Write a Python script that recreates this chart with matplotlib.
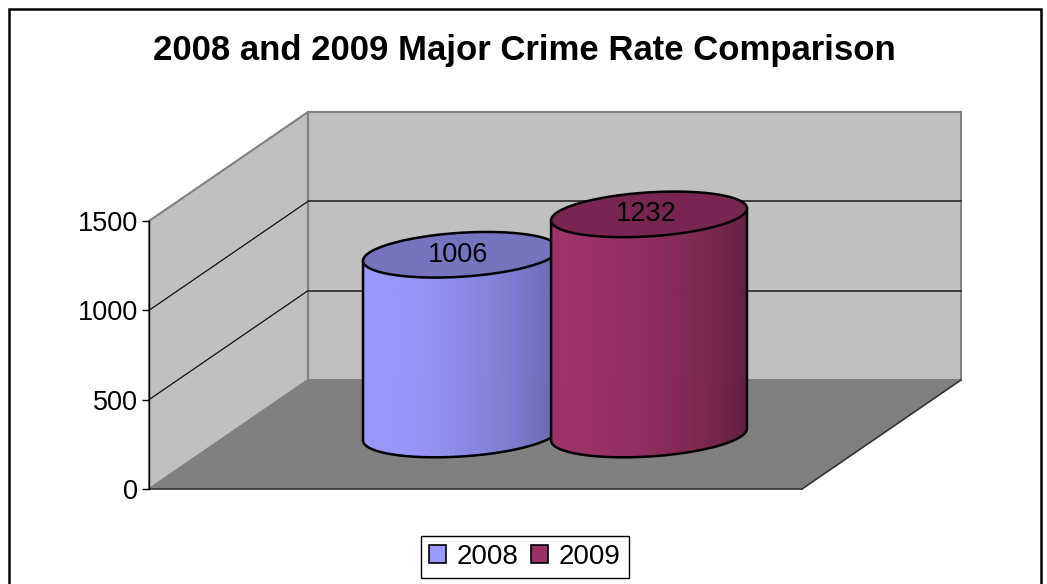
import numpy as np
import matplotlib
matplotlib.use("Agg")
import matplotlib.pyplot as plt
from matplotlib.patches import Polygon, Patch, Rectangle

plt.rcParams["font.family"] = ["Liberation Sans", "DejaVu Sans"]

# data
title = "2008 and 2009 Major Crime Rate Comparison"
series = ["2008", "2009"]
values = [1006, 1232]
y_ticks = [0, 500, 1000, 1500]
y_max = 1500

# styles
light = [(155, 155, 255), (158, 52, 106)]
dark = [(92, 92, 158), (88, 27, 58)]
tops = ["#7474BF", "#782651"]
legend_colors = ["#9999FF", "#993366"]

W, H = 1047, 584
fig = plt.figure(figsize=(W / 100, H / 100), dpi=100)

# front plane of the plot box (pixels from top-left)
x0_px, x1_px, ybot_px, ytop_px = 149, 802, 489, 221
ax = fig.add_axes([x0_px / W, (H - ybot_px) / H, (x1_px - x0_px) / W, (ybot_px - ytop_px) / H])
ax.set_xlim(0, 1)
ax.set_ylim(0, y_max)
ax.patch.set_visible(False)

px_per_unit = (ybot_px - ytop_px) / y_max
DX = 159 / (x1_px - x0_px)      # depth offset in x units
DY = 109 / px_per_unit          # depth offset in value units


def proj(x, v, d):
    return (x + d * DX, v + d * DY)


def poly(pts, **kw):
    p = Polygon(pts, closed=True, clip_on=False, **kw)
    ax.add_patch(p)
    return p


# walls and floor
poly([proj(0, 0, 1), proj(1, 0, 1), proj(1, y_max, 1), proj(0, y_max, 1)],
     facecolor="#C0C0C0", edgecolor="#808080", lw=1.5, zorder=1)
poly([proj(0, 0, 0), proj(0, 0, 1), proj(0, y_max, 1), proj(0, y_max, 0)],
     facecolor="#C0C0C0", edgecolor="#808080", lw=1.5, zorder=1)
poly([proj(0, 0, 0), proj(1, 0, 0), proj(1, 0, 1), proj(0, 0, 1)],
     facecolor="#808080", edgecolor="none", zorder=2)
for a, b in [((0, 0, 0), (1, 0, 0)), ((1, 0, 0), (1, 0, 1))]:
    pa, pb = proj(*a), proj(*b)
    ax.plot([pa[0], pb[0]], [pa[1], pb[1]], color="#333333", lw=1.2, clip_on=False, zorder=2)

for v in y_ticks[1:-1]:
    pa, pb, pc = proj(0, v, 0), proj(0, v, 1), proj(1, v, 1)
    ax.plot([pa[0], pb[0]], [pa[1], pb[1]], color="#111111", lw=0.9, clip_on=False, zorder=2)
    ax.plot([pb[0], pc[0]], [pb[1], pc[1]], color="#333333", lw=1.3, clip_on=False, zorder=2)

# cylinders
bar_w = 0.30
offsets = [-0.144, 0.144]
R = bar_w / 2
B = 22 / px_per_unit     # vertical semi-axis of the ellipse
T = 6 / px_per_unit      # tilt of the ellipse
depth = 0.5


def ring(cx, v, t):
    x, y = proj(cx + R * np.cos(t), v, depth)
    return x, y + B * np.sin(t) + T * np.cos(t)


for i, (name, val) in enumerate(zip(series, values)):
    cx = 0.5 + offsets[i]
    z = 3 + i * 2
    ts = np.linspace(np.pi, 2 * np.pi, 61)
    lc, dc = np.array(light[i]) / 255, np.array(dark[i]) / 255
    for k in range(len(ts) - 1):
        tm = 0.5 * (ts[k] + ts[k + 1])
        shade = 0.5 * (1 + np.cos(tm - 1.2 * np.pi)) * 0.85 + 0.15 * (1 - (tm - np.pi) / np.pi)
        shade = min(max(shade, 0), 1)
        col = dc + (lc - dc) * shade
        xa, ya0 = ring(cx, 0, ts[k])
        xb, yb0 = ring(cx, 0, ts[k + 1])
        _, ya1 = ring(cx, val, ts[k])
        _, yb1 = ring(cx, val, ts[k + 1])
        poly([(xa, ya0), (xb, yb0), (xb, yb1), (xa, ya1)],
             facecolor=col, edgecolor=col, lw=0.5, zorder=z)
    # outline of body
    bx, by = ring(cx, 0, ts)
    lx, ly_top = ring(cx, val, np.pi)
    rx, ry_top = ring(cx, val, 2 * np.pi)
    ax.plot(np.r_[lx, bx, rx], np.r_[ly_top, by, ry_top], color="black", lw=1.8,
            clip_on=False, zorder=z + 0.5, solid_joinstyle="round")
    # top cap
    tt = np.linspace(0, 2 * np.pi, 121)
    tx, ty = ring(cx, val, tt)
    poly(list(zip(tx, ty)), facecolor=tops[i], edgecolor="black", lw=1.8, zorder=z + 0.6)
    lx_c, ly_c = proj(cx, val, depth)
    ax.text(lx_c - 0.004, ly_c, f"{val}", ha="center", va="center", fontsize=19.5,
            color="black", zorder=z + 0.7)

# axis styling
for s in ["top", "right", "bottom"]:
    ax.spines[s].set_visible(False)
ax.spines["left"].set_color("black")
ax.spines["left"].set_linewidth(1.0)
ax.spines["left"].set_zorder(3)
ax.set_xticks([])
ax.set_yticks(y_ticks)
ax.set_yticklabels([str(t) for t in y_ticks])
ax.tick_params(axis="y", length=5, width=1, direction="out", labelsize=19.5, pad=3)

# title
fig.text(0.501, 1 - 60 / H, title, ha="center", va="baseline", fontsize=25, fontweight="bold")

# legend
handles = [Patch(facecolor=c, edgecolor="black", lw=1.2) for c in legend_colors]
leg = fig.legend(handles, series, loc="center", bbox_to_anchor=(525 / W, 1 - 557 / H), ncol=2,
                 fontsize=20, frameon=True, fancybox=False, framealpha=1, edgecolor="black",
                 handlelength=0.6, handleheight=0.6, handletextpad=0.4, columnspacing=0.45,
                 borderpad=0.3, borderaxespad=0)
leg.get_frame().set_linewidth(1.0)

# outer frame
fig.patches.append(Rectangle((9 / W, -0.05), (1041 - 9) / W, 1.05 - 9 / H, transform=fig.transFigure,
                             fill=False, edgecolor="black", lw=1.8))

fig.savefig("out.png", dpi=100)
